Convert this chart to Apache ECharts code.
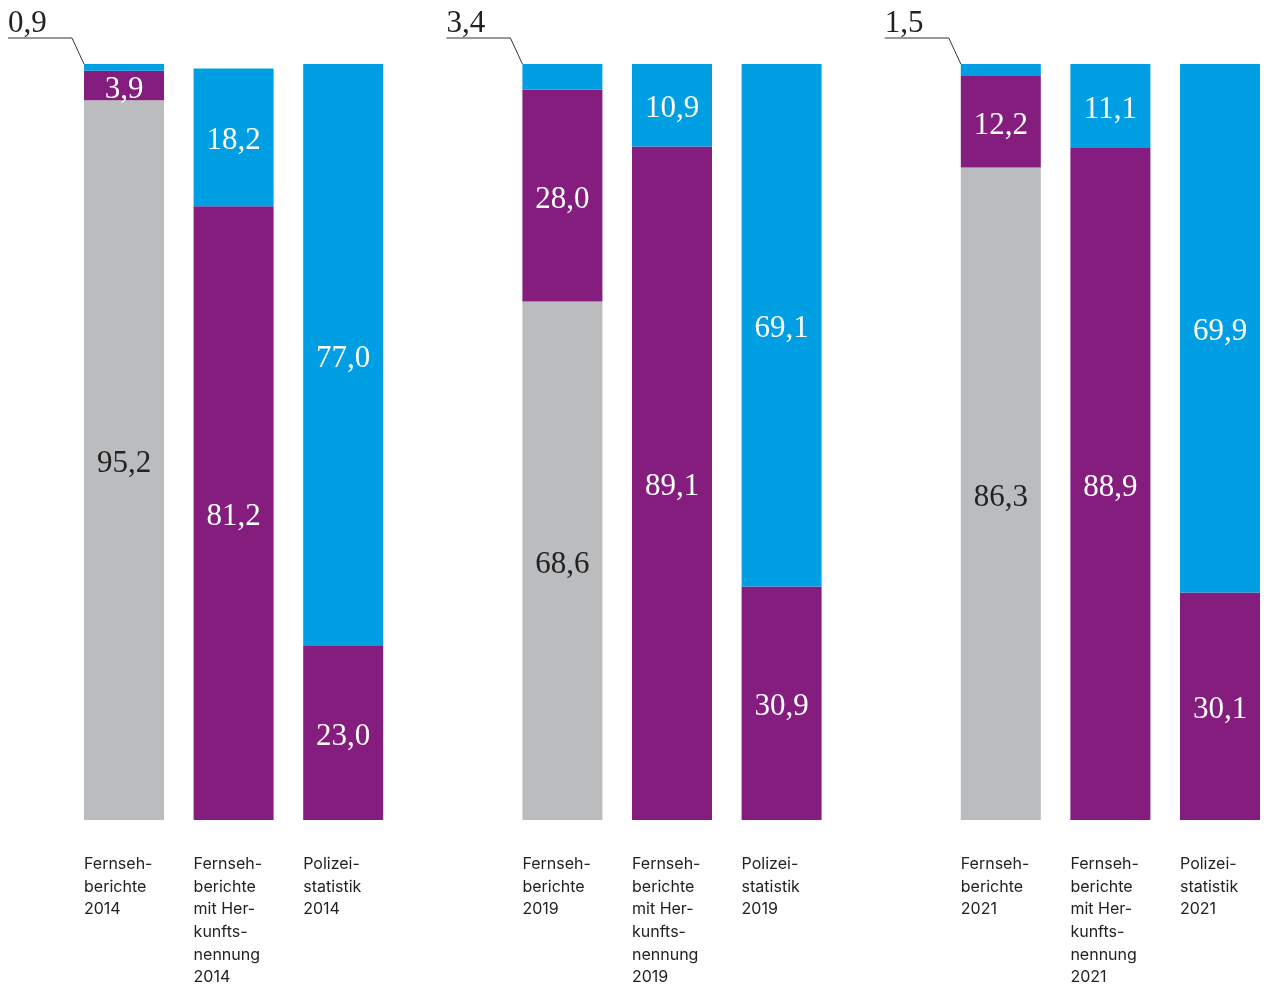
<!DOCTYPE html>
<html>
<head>
<meta charset="utf-8">
<script src="https://cdn.jsdelivr.net/npm/echarts@6/dist/echarts.min.js"></script>
<style>html,body{margin:0;padding:0;background:#fff;}#c{width:1268px;height:986px;}</style>
</head>
<body>
<div id="c"></div>
<script>
// Categories (empty strings are spacers between the three groups)
const categories = [
  'Fernseh-\nberichte\n2014',
  'Fernseh-\nberichte\nmit Her-\nkunfts-\nnennung\n2014',
  'Polizei-\nstatistik\n2014',
  '',
  'Fernseh-\nberichte\n2019',
  'Fernseh-\nberichte\nmit Her-\nkunfts-\nnennung\n2019',
  'Polizei-\nstatistik\n2019',
  '',
  'Fernseh-\nberichte\n2021',
  'Fernseh-\nberichte\nmit Her-\nkunfts-\nnennung\n2021',
  'Polizei-\nstatistik\n2021'
];
const greyValues   = [95.2, null, null, null, 68.6, null, null, null, 86.3, null, null];
const purpleValues = [3.9, 81.2, 23.0, null, 28.0, 89.1, 30.9, null, 12.2, 88.9, 30.1];
const blueValues   = [0.9, 18.2, 77.0, null, 3.4, 10.9, 69.1, null, 1.5, 11.1, 69.9];

const GREY = '#BBBCBE', PURPLE = '#841D7E', BLUE = '#009FE3';
const NUM_FONT = 'Liberation Serif';
const NUM_SIZE = 31;
const SMALL = 5; // segments below this get an outside label with leader

const fmt = v => v.toFixed(1).replace('.', ',');

function mkData(arr, outsideSmall) {
  return arr.map(v => {
    if (v == null) return null;
    if (outsideSmall && v < SMALL) return { value: v, label: { show: false } };
    return v;
  });
}

const chart = echarts.init(document.getElementById('c'), null, { renderer: 'canvas' });

const labelBase = {
  show: true,
  position: 'inside',
  offset: [0, 4],
  fontFamily: NUM_FONT,
  fontSize: NUM_SIZE,
  formatter: p => fmt(p.value)
};

const option = {
  animation: false,
  backgroundColor: '#ffffff',
  grid: { left: 124, top: 64, height: 756, right: 48 },
  xAxis: {
    type: 'category',
    boundaryGap: false,
    data: categories,
    axisLine: { show: false },
    axisTick: { show: false },
    axisLabel: {
      interval: 0,
      margin: 33,
      align: 'center',
      verticalAlign: 'top',
      formatter: v => v ? v.split('\n').map(s => '{a|' + s + '}').join('\n') : '',
      rich: {
        a: { width: 80, align: 'left', fontFamily: 'Inter', fontSize: 16, lineHeight: 22.6, color: '#222222' }
      }
    }
  },
  yAxis: { type: 'value', min: 0, max: 100, show: false },
  series: [
    { name: 'grau', type: 'bar', stack: 's', barWidth: 80, data: mkData(greyValues, false),
      itemStyle: { color: GREY }, label: Object.assign({}, labelBase, { color: '#222222' }) },
    { name: 'lila', type: 'bar', stack: 's', barWidth: 80, data: mkData(purpleValues, false),
      itemStyle: { color: PURPLE }, label: Object.assign({}, labelBase, { color: '#ffffff' }) },
    { name: 'blau', type: 'bar', stack: 's', barWidth: 80, data: mkData(blueValues, true),
      itemStyle: { color: BLUE }, label: Object.assign({}, labelBase, { color: '#ffffff' }) }
  ]
};
chart.setOption(option);

// Leader labels for tiny top segments
const graphics = [];
blueValues.forEach((v, i) => {
  if (v == null || v >= SMALL) return;
  const total = (greyValues[i] || 0) + (purpleValues[i] || 0) + v;
  const p = chart.convertToPixel({ gridIndex: 0 }, [i, total]);
  const barLeft = p[0] - 40, top = p[1];
  const lx = barLeft - 76, ly = top - 26;
  graphics.push({
    type: 'polyline',
    shape: { points: [[lx, ly], [barLeft - 12, ly], [barLeft, top]] },
    style: { stroke: '#333333', lineWidth: 1, fill: null }
  });
  graphics.push({
    type: 'text',
    x: lx, y: ly + 1,
    style: { text: fmt(v), fontFamily: NUM_FONT, fontSize: NUM_SIZE, fill: '#222222', align: 'left', verticalAlign: 'bottom' }
  });
});
chart.setOption({ graphic: graphics });
</script>
</body>
</html>
